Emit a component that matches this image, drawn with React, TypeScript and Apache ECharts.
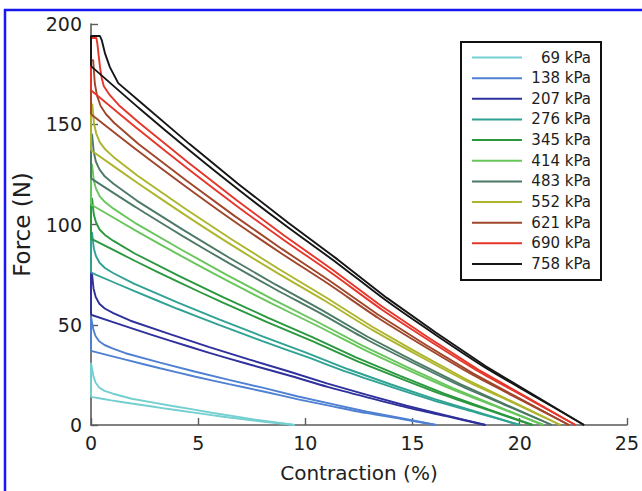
import React, { useEffect, useRef } from "react";
import * as echarts from "echarts";

// ---- data ----
const pressureLabels = ["69 kPa", "138 kPa", "207 kPa", "276 kPa", "345 kPa", "414 kPa", "483 kPa", "552 kPa", "621 kPa", "690 kPa", "758 kPa"];

const xTicks = [0, 5, 10, 15, 20, 25];
const yTicks = [0, 50, 100, 150, 200];

// upper (first, with spike) and lower (return) curves: [contraction %, force N]
const up69 = [[0, 14], [0, 31], [0.03, 31], [0.11, 24.5], [0.21, 21.2], [0.38, 18.7], [0.63, 17.0], [1.03, 15.6], [1.9, 13.1], [2.85, 11.3], [3.8, 9.5], [4.75, 7.8], [5.7, 6.0], [6.65, 4.4], [7.6, 2.8], [8.55, 1.4], [9.5, 0]];
const low69 = [[0, 14], [0.95, 12.3], [1.9, 10.7], [2.85, 9.2], [3.8, 7.7], [4.75, 6.3], [5.7, 4.8], [6.65, 3.5], [7.6, 2.2], [8.55, 1.1], [9.5, 0]];

const up138 = [[0, 37], [0, 54], [0.03, 54], [0.11, 47.6], [0.21, 44.4], [0.38, 41.8], [0.63, 39.9], [1.03, 38.1], [1.61, 35.8], [3.22, 31.1], [4.83, 26.7], [6.44, 22.5], [8.05, 18.5], [9.66, 14.2], [11.27, 10.4], [12.88, 6.6], [14.49, 3.4], [16.1, 0]];
const low138 = [[0, 37], [1.61, 32.6], [3.22, 28.3], [4.83, 24.2], [6.44, 20.4], [8.05, 16.7], [9.66, 12.8], [11.27, 9.3], [12.88, 5.9], [14.49, 3.0], [16.1, 0]];

const up207 = [[0, 55], [0, 76], [0.04, 76], [0.12, 68.0], [0.22, 63.8], [0.39, 60.5], [0.64, 58.1], [1.04, 55.8], [1.84, 52.0], [3.68, 45.3], [5.52, 38.8], [7.36, 32.7], [9.2, 26.8], [11.04, 20.6], [12.88, 15.0], [14.72, 9.6], [16.56, 4.8], [18.4, 0]];
const low207 = [[0, 55], [1.84, 48.4], [3.68, 42.1], [5.52, 36.0], [7.36, 30.3], [9.2, 24.8], [11.04, 19.0], [12.88, 13.8], [14.72, 8.8], [16.56, 4.4], [18.4, 0]];

const up276 = [[0, 76], [0, 96], [0.05, 96], [0.13, 88.2], [0.23, 84.3], [0.4, 80.9], [0.65, 78.3], [1.05, 75.7], [2, 70.5], [4, 61.3], [6, 52.6], [8, 44.2], [10, 36.2], [12, 27.8], [14, 20.2], [16, 13.0], [18, 6.5], [20, 0]];
const low276 = [[0, 76], [2, 66.9], [4, 58.1], [6, 49.8], [8, 41.8], [10, 34.2], [12, 26.2], [14, 19.0], [16, 12.2], [18, 6.1], [20, 0]];

const up345 = [[0, 93], [0, 113], [0.05, 113], [0.13, 105.1], [0.23, 101.1], [0.4, 97.5], [0.65, 94.8], [1.05, 91.8], [2.06, 85.4], [4.12, 74.3], [6.18, 63.7], [8.24, 53.6], [10.3, 43.9], [12.36, 33.7], [14.42, 24.5], [16.48, 15.7], [18.54, 7.8], [20.6, 0]];
const low345 = [[0, 93], [2.06, 81.8], [4.12, 71.1], [6.18, 60.9], [8.24, 51.2], [10.3, 41.9], [12.36, 32.1], [14.42, 23.3], [16.48, 14.9], [18.54, 7.4], [20.6, 0]];

const up414 = [[0, 110], [0, 130], [0.05, 130], [0.13, 122.0], [0.23, 117.9], [0.4, 114.2], [0.65, 111.2], [1.05, 107.9], [2.11, 100.4], [4.22, 87.4], [6.33, 74.9], [8.44, 62.9], [10.55, 51.5], [12.66, 39.6], [14.77, 28.7], [16.88, 18.4], [18.99, 9.2], [21.1, 0]];
const low414 = [[0, 110], [2.11, 96.8], [4.22, 84.2], [6.33, 72.1], [8.44, 60.5], [10.55, 49.5], [12.66, 38.0], [14.77, 27.5], [16.88, 17.6], [18.99, 8.8], [21.1, 0]];

const up483 = [[0, 123], [0, 145], [0.05, 145], [0.13, 136.0], [0.23, 131.3], [0.4, 127.4], [0.65, 123.9], [1.05, 120.3], [2.15, 111.8], [4.3, 97.3], [6.45, 83.4], [8.6, 70.1], [10.75, 57.4], [12.9, 44.0], [15.05, 32.0], [17.2, 20.5], [19.35, 10.2], [21.5, 0]];
const low483 = [[0, 123], [2.15, 108.2], [4.3, 94.1], [6.45, 80.6], [8.6, 67.7], [10.75, 55.4], [12.9, 42.4], [15.05, 30.8], [17.2, 19.7], [19.35, 9.8], [21.5, 0]];

const up552 = [[0, 137], [0, 160], [0.06, 160], [0.14, 150.4], [0.24, 145.5], [0.41, 141.1], [0.66, 137.5], [1.06, 133.6], [2.19, 124.2], [4.38, 108.0], [6.57, 92.5], [8.76, 77.8], [10.95, 63.7], [13.14, 48.9], [15.33, 35.5], [17.52, 22.7], [19.71, 11.4], [21.9, 0]];
const low552 = [[0, 137], [2.19, 120.6], [4.38, 104.8], [6.57, 89.7], [8.76, 75.4], [10.95, 61.7], [13.14, 47.3], [15.33, 34.3], [17.52, 21.9], [19.71, 11.0], [21.9, 0]];

const up621 = [[0, 155], [0, 182], [0.1, 182], [0.18, 170.2], [0.28, 164.3], [0.45, 159.1], [0.7, 155.0], [1.1, 150.5], [2.23, 140.0], [4.46, 121.8], [6.69, 104.3], [8.92, 87.7], [11.15, 71.8], [13.38, 55.1], [15.61, 40.0], [17.84, 25.6], [20.07, 12.8], [22.3, 0]];
const low621 = [[0, 155], [2.23, 136.4], [4.46, 118.6], [6.69, 101.5], [8.92, 85.3], [11.15, 69.8], [13.38, 53.5], [15.61, 38.8], [17.84, 24.8], [20.07, 12.4], [22.3, 0]];

const up690 = [[0, 167], [0, 193], [0.25, 193], [0.3, 190], [0.36, 184], [0.42, 178.5], [0.5, 173], [0.6, 169], [0.88, 164.5], [1.3, 159.5], [2.26, 150.6], [4.52, 131.0], [6.78, 112.2], [9.04, 94.3], [11.3, 77.2], [13.56, 59.2], [15.82, 43.0], [18.08, 27.5], [20.34, 13.8], [22.6, 0]];
const low690 = [[0, 167], [2.26, 147.0], [4.52, 127.8], [6.78, 109.4], [9.04, 91.9], [11.3, 75.2], [13.56, 57.6], [15.82, 41.8], [18.08, 26.7], [20.34, 13.4], [22.6, 0]];

const up758 = [[0, 179], [0, 194], [0.42, 194], [0.5, 192], [0.65, 185.5], [0.88, 178.5], [1.27, 170.5], [2.3, 161.1], [4.6, 140.1], [6.9, 120.0], [9.2, 100.9], [11.5, 82.6], [13.8, 63.4], [16.1, 46.0], [18.4, 29.4], [20.7, 14.7], [23, 0]];
const low758 = [[0, 179], [2.3, 157.5], [4.6, 136.9], [6.9, 117.2], [9.2, 98.5], [11.5, 80.6], [13.8, 61.8], [16.1, 44.8], [18.4, 28.6], [20.7, 14.3], [23, 0]];

const upperCurves = [up69, up138, up207, up276, up345, up414, up483, up552, up621, up690, up758];
const lowerCurves = [low69, low138, low207, low276, low345, low414, low483, low552, low621, low690, low758];

// ---- styles ----
const seriesColors = ["#74cfd0", "#4f80d2", "#2e309c", "#2fa293", "#2a983e", "#68c65c", "#4c7a66", "#adb52c", "#a0462a", "#e6362a", "#161616"];
const FONT = "DejaVu Sans";

export default function App() {
  const ref = useRef<HTMLDivElement>(null);

  useEffect(() => {
    document.body.style.margin = "0";
    if (!ref.current) return;
    const chart = echarts.init(ref.current, undefined, { renderer: "svg" });

    const series: any[] = [];
    pressureLabels.forEach((name, i) => {
      series.push({
        name,
        type: "line",
        data: lowerCurves[i],
        showSymbol: false,
        smooth: 0.25,
        silent: true,
        lineStyle: { color: seriesColors[i], width: 1.9 },
        z: 2 + i,
      });
      series.push({
        name,
        type: "line",
        data: upperCurves[i],
        showSymbol: false,
        smooth: false,
        silent: true,
        lineStyle: { color: seriesColors[i], width: 1.9 },
        z: 2 + i,
      });
    });

    const legendLeft = 461;
    const legendTop = 42;
    const rowH = 20.65;
    const legendEls: any[] = [
      {
        type: "rect",
        shape: { x: legendLeft, y: legendTop, width: 140, height: 238 },
        style: { fill: "#fff", stroke: "#111", lineWidth: 2 },
        z: 50,
      },
    ];
    pressureLabels.forEach((name, i) => {
      const y = legendTop + 15.5 + i * rowH;
      legendEls.push({
        type: "line",
        shape: { x1: legendLeft + 11, y1: y, x2: legendLeft + 61, y2: y },
        style: { stroke: seriesColors[i], lineWidth: 2 },
        z: 51,
      });
      legendEls.push({
        type: "text",
        x: legendLeft + 130,
        y,
        style: {
          text: name,
          fill: "#1e1e1e",
          font: `15px '${FONT}'`,
          textAlign: "right",
          textVerticalAlign: "middle",
        },
        z: 51,
      });
    });

    const frame: any[] = [
      { type: "line", shape: { x1: 4, y1: 10, x2: 642, y2: 10 }, style: { stroke: "#1818f0", lineWidth: 2.5 }, z: 60 },
      { type: "line", shape: { x1: 5, y1: 9, x2: 5, y2: 491 }, style: { stroke: "#1818f0", lineWidth: 2.5 }, z: 60 },
    ];

    chart.setOption({
      animation: false,
      backgroundColor: "#fff",
      grid: { left: 91, right: 11, top: 24, bottom: 66, containLabel: false },
      xAxis: {
        type: "value",
        min: xTicks[0],
        max: xTicks[xTicks.length - 1],
        interval: xTicks[1] - xTicks[0],
        name: "Contraction (%)",
        nameLocation: "middle",
        nameGap: 38,
        nameTextStyle: { fontFamily: FONT, fontSize: 20, color: "#1e1e1e" },
        axisLine: { show: true, onZero: false, lineStyle: { color: "#5a5a5a", width: 1.6 } },
        axisTick: { show: true, inside: true, length: 7, lineStyle: { color: "#5a5a5a", width: 1.4 } },
        axisLabel: { fontFamily: FONT, fontSize: 19, color: "#1e1e1e", margin: 8 },
        splitLine: { show: false },
      },
      yAxis: {
        type: "value",
        min: yTicks[0],
        max: yTicks[yTicks.length - 1],
        interval: yTicks[1] - yTicks[0],
        name: "Force (N)",
        nameLocation: "middle",
        nameGap: 58,
        nameTextStyle: { fontFamily: FONT, fontSize: 23, color: "#1e1e1e" },
        axisLine: { show: true, onZero: false, lineStyle: { color: "#5a5a5a", width: 1.6 } },
        axisTick: { show: true, inside: true, length: 7, lineStyle: { color: "#5a5a5a", width: 1.4 } },
        axisLabel: { fontFamily: FONT, fontSize: 19, color: "#1e1e1e", margin: 9 },
        splitLine: { show: false },
      },
      graphic: [...legendEls, ...frame],
      series,
    });

    return () => chart.dispose();
  }, []);

  return <div ref={ref} style={{ width: 642, height: 491 }} />;
}
